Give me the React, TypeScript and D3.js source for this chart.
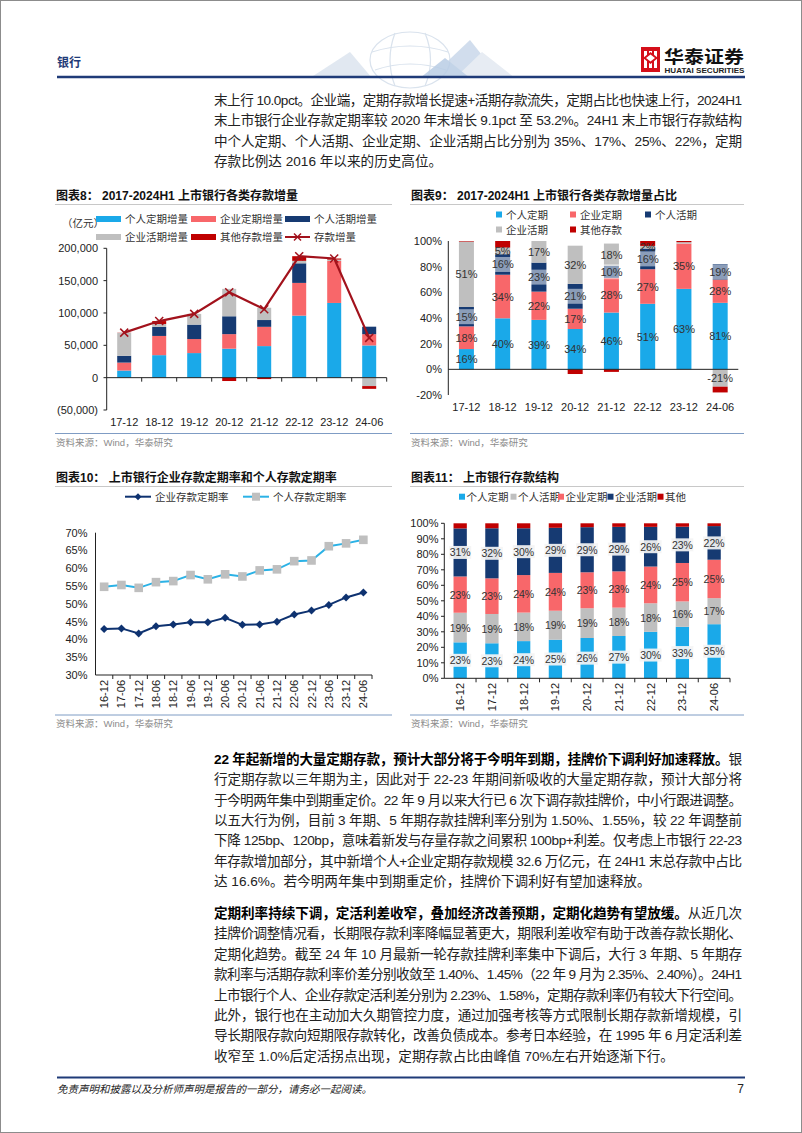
import React from 'react';
import * as d3 from 'd3';

const FONT = "'Liberation Sans', Arial, 'Noto Sans CJK SC', sans-serif";

// ---------- Chart 8 / 9 data (亿元) ----------
const periods8 = ['17-12', '18-12', '19-12', '20-12', '21-12', '22-12', '23-12', '24-06'];
const personalTimeInc = [11000, 34800, 38000, 44800, 48800, 95900, 115500, 49800];
const corpTimeInc = [12300, 29700, 21700, 22500, 29800, 50600, 65000, 17400];
const personalDemandInc = [10500, 14000, 22300, 27600, 10500, 30300, 0, 11600];
const corpDemandInc = [35500, 4500, 16600, 42400, 19000, 3800, 2000, -13000];
const otherInc = [300, 4500, 0, -5200, -2200, 7200, 1700, -4300];
const totalInc = [69600, 87500, 98600, 132100, 105900, 187800, 184200, 61500];
const yTicks8 = [-50000, 0, 50000, 100000, 150000, 200000];
const yTicks9 = [-20, 0, 20, 40, 60, 80, 100];

// ---------- Chart 10 data (%) ----------
const periods10 = ['16-12', '17-06', '17-12', '18-06', '18-12', '19-06', '19-12', '20-06', '20-12', '21-06', '21-12', '22-06', '22-12', '23-06', '23-12', '24-06'];
const corpTimeRate = [42.9, 43.1, 41.7, 43.7, 44.2, 44.8, 44.8, 46.1, 44.1, 44.2, 45.0, 47.0, 48.1, 49.7, 51.8, 53.2];
const personalTimeRate = [54.8, 55.3, 54.5, 56.1, 56.4, 58.1, 56.9, 58.3, 57.7, 59.4, 59.7, 62.0, 62.2, 66.2, 67.0, 68.0];
const yTicks10 = [30, 35, 40, 45, 50, 55, 60, 65, 70];

// ---------- Chart 11 data (%) ----------
const periods11 = ['16-12', '17-12', '18-12', '19-12', '20-12', '21-12', '22-12', '23-12', '24-06'];
const shPersonalTime = [23.2, 22.6, 24.0, 24.9, 26.0, 27.3, 30.0, 33.2, 34.9];
const shPersonalDemand = [19.1, 18.9, 18.4, 18.7, 19.2, 18.3, 18.4, 16.4, 16.8];
const shCorpTime = [23.4, 23.0, 24.2, 24.4, 23.2, 23.4, 23.7, 24.8, 24.8];
const shCorpDemand = [31.0, 32.3, 30.2, 29.1, 29.1, 28.7, 25.6, 23.4, 21.7];
const shOther = [3.3, 3.2, 3.2, 2.9, 2.5, 2.3, 2.3, 2.2, 1.8];
const yTicks11 = [0, 10, 20, 30, 40, 50, 60, 70, 80, 90, 100];

const C_LB = '#1AA9E9';
const C_SAL = '#F8676A';
const C_NAVY = '#163A72';
const C_GRAY = '#BFBFBF';
const C_DRED = '#C00000';
const C_LINE = '#A2121C';
const C_HEAD = '#1F3B78';

type Seg = { t: string; b?: boolean };

const para1: Seg[][] = [
  [{ t: '末上行 10.0pct。企业端，定期存款增长提速+活期存款流失，定期占比也快速上行，2024H1' }],
  [{ t: '末上市银行企业存款定期率较 2020 年末增长 9.1pct 至 53.2%。24H1 末上市银行存款结构' }],
  [{ t: '中个人定期、个人活期、企业定期、企业活期占比分别为 35%、17%、25%、22%，定期' }],
  [{ t: '存款比例达 2016 年以来的历史高位。' }],
];
const para2: Seg[][] = [
  [{ t: '22 年起新增的大量定期存款，预计大部分将于今明年到期，挂牌价下调利好加速释放。', b: true }, { t: '银' }],
  [{ t: '行定期存款以三年期为主，因此对于 22-23 年期间新吸收的大量定期存款，预计大部分将' }],
  [{ t: '于今明两年集中到期重定价。22 年 9 月以来大行已 6 次下调存款挂牌价，中小行跟进调整。' }],
  [{ t: '以五大行为例，目前 3 年期、5 年期存款挂牌利率分别为 1.50%、1.55%，较 22 年调整前' }],
  [{ t: '下降 125bp、120bp，意味着新发与存量存款之间累积 100bp+利差。仅考虑上市银行 22-23' }],
  [{ t: '年存款增加部分，其中新增个人+企业定期存款规模 32.6 万亿元，在 24H1 末总存款中占比' }],
  [{ t: '达 16.6%。若今明两年集中到期重定价，挂牌价下调利好有望加速释放。' }],
];
const para3: Seg[][] = [
  [{ t: '定期利率持续下调，定活利差收窄，叠加经济改善预期，定期化趋势有望放缓。', b: true }, { t: '从近几次' }],
  [{ t: '挂牌价调整情况看，长期限存款利率降幅显著更大，期限利差收窄有助于改善存款长期化、' }],
  [{ t: '定期化趋势。截至 24 年 10 月最新一轮存款挂牌利率集中下调后，大行 3 年期、5 年期存' }],
  [{ t: '款利率与活期存款利率价差分别收敛至 1.40%、1.45%（22 年 9 月为 2.35%、2.40%）。24H1' }],
  [{ t: '上市银行个人、企业存款定活利差分别为 2.23%、1.58%，定期存款利率仍有较大下行空间。' }],
  [{ t: '此外，银行也在主动加大久期管控力度，通过加强考核等方式限制长期存款新增规模，引' }],
  [{ t: '导长期限存款向短期限存款转化，改善负债成本。参考日本经验，在 1995 年 6 月定活利差' }],
  [{ t: '收窄至 1.0%后定活拐点出现，定期存款占比由峰值 70%左右开始逐渐下行。' }],
];

function Para({ lines, y0, lh }: { lines: Seg[][]; y0: number; lh: number }) {
  return (
    <g fontSize={13.6} fill="#222" fontFamily={FONT}>
      {lines.map((segs, i) => {
        const last = i === lines.length - 1;
        return (
          <text key={i} x={214} y={y0 + i * lh} textLength={last ? undefined : 528} lengthAdjust={last ? undefined : 'spacing'}>
            {segs.map((s, j) => (
              <tspan key={j} fontWeight={s.b ? 'bold' : 'normal'} fill={s.b ? '#000' : '#222'}>{s.t}</tspan>
            ))}
          </text>
        );
      })}
    </g>
  );
}

function ChartFrame({ x1, x2, title, titleY, srcY }: { x1: number; x2: number; title: string; titleY: number; srcY: number }) {
  return (
    <g fontFamily={FONT}>
      <text x={x1 + 1} y={titleY} fontSize={12} fontWeight="bold" fill="#111">{title}</text>
      <line x1={x1} x2={x2} y1={titleY + 5} y2={titleY + 5} stroke="#C8C8C8" strokeWidth={1} />
      <line x1={x1} x2={x2} y1={srcY} y2={srcY} stroke="#7F9CC4" strokeWidth={1} />
      <text x={x1 + 1} y={srcY + 12} fontSize={9.5} fill="#8C8C8C">资料来源：Wind，华泰研究</text>
    </g>
  );
}

type Rect = { x: number; y: number; w: number; h: number; c: string };

function stackRects(periods: string[], vals: number[][], colors: string[], xs: d3.ScaleBand<string>, ys: d3.ScaleLinear<number, number>, bw: number) {
  const out: (Rect & { v: number; si: number; mid: number; cx: number })[] = [];
  periods.forEach((p, i) => {
    let pos = 0;
    let neg = 0;
    vals.forEach((arr, si) => {
      const v = arr[i];
      let a: number, b: number;
      if (v >= 0) { a = pos; b = pos + v; pos = b; } else { a = neg; b = neg + v; neg = b; }
      const cx = (xs(p) as number) + xs.bandwidth() / 2;
      const yt = ys(Math.max(a, b));
      const yb = ys(Math.min(a, b));
      out.push({ x: cx - bw / 2, y: yt, w: bw, h: yb - yt, c: colors[si], v, si, mid: (yt + yb) / 2, cx });
    });
  });
  return out;
}

function Chart8() {
  const xs = d3.scaleBand<string>().domain(periods8).range([106.7, 386.7]);
  const ys = d3.scaleLinear().domain([-50000, 200000]).range([410, 248.3]);
  const colors = [C_LB, C_SAL, C_NAVY, C_GRAY, C_DRED];
  const rects = stackRects(periods8, [personalTimeInc, corpTimeInc, personalDemandInc, corpDemandInc, otherInc], colors, xs, ys, 14);
  const fmt = d3.format(',');
  const tf = (v: number) => (v < 0 ? `(${fmt(-v)})` : fmt(v));
  const pts: [number, number][] = periods8.map((p, i) => [(xs(p) as number) + xs.bandwidth() / 2, ys(totalInc[i])]);
  const line = d3.line()(pts) as string;
  const legend = [
    { n: '个人定期增量', c: C_LB, x: 96, y: 219, t: 'r' },
    { n: '企业定期增量', c: C_SAL, x: 191, y: 219, t: 'r' },
    { n: '个人活期增量', c: C_NAVY, x: 285, y: 219, t: 'r' },
    { n: '企业活期增量', c: C_GRAY, x: 96, y: 237, t: 'r' },
    { n: '其他存款增量', c: C_DRED, x: 191, y: 237, t: 'r' },
    { n: '存款增量', c: C_LINE, x: 285, y: 237, t: 'l' },
  ];
  return (
    <g fontFamily={FONT}>
      <ChartFrame x1={55} x2={392} title="图表8：  2017-2024H1 上市银行各类存款增量" titleY={199.5} srcY={433.5} />
      <text x={62} y={227} fontSize={10.5} fill="#333">（亿元）</text>
      {legend.map((l, i) => (
        <g key={i}>
          {l.t === 'r' ? (
            <rect x={l.x} y={l.y - 3} width={25} height={6} fill={l.c} />
          ) : (
            <g stroke={l.c} strokeWidth={2}>
              <line x1={l.x} x2={l.x + 25} y1={l.y} y2={l.y} />
              <line x1={l.x + 9} x2={l.x + 16} y1={l.y - 3.5} y2={l.y + 3.5} strokeWidth={1.4} />
              <line x1={l.x + 9} x2={l.x + 16} y1={l.y + 3.5} y2={l.y - 3.5} strokeWidth={1.4} />
            </g>
          )}
          <text x={l.x + 29} y={l.y + 4} fontSize={10.5} fill="#333">{l.n}</text>
        </g>
      ))}
      {yTicks8.map((t) => (
        <g key={t}>
          <text x={98} y={ys(t) + 4} fontSize={11} textAnchor="end" fill="#222">{tf(t)}</text>
          <line x1={103.5} x2={106.7} y1={ys(t)} y2={ys(t)} stroke="#222" />
        </g>
      ))}
      {rects.map((r, i) => (
        <rect key={i} x={r.x} y={r.y} width={r.w} height={Math.max(0, r.h)} fill={r.c} />
      ))}
      <line x1={106.7} x2={106.7} y1={248.3} y2={410} stroke="#222" />
      <line x1={106.7} x2={386.7} y1={ys(0)} y2={ys(0)} stroke="#222" />
      {periods8.map((p, i) => (
        <line key={'t' + i} x1={(xs(p) as number) + xs.bandwidth()} x2={(xs(p) as number) + xs.bandwidth()} y1={ys(0)} y2={ys(0) + 4} stroke="#222" />
      ))}
      <path d={line} fill="none" stroke={C_LINE} strokeWidth={2.2} />
      {pts.map((p, i) => (
        <g key={'m' + i} stroke={C_LINE} strokeWidth={1.5}>
          <line x1={p[0] - 4} x2={p[0] + 4} y1={p[1] - 4} y2={p[1] + 4} />
          <line x1={p[0] - 4} x2={p[0] + 4} y1={p[1] + 4} y2={p[1] - 4} />
        </g>
      ))}
      {periods8.map((p) => (
        <text key={p} x={(xs(p) as number) + xs.bandwidth() / 2} y={425.5} fontSize={11} textAnchor="middle" fill="#222">{p}</text>
      ))}
    </g>
  );
}

function Chart9() {
  const xs = d3.scaleBand<string>().domain(periods8).range([448.3, 738.3]);
  const ys = d3.scaleLinear().domain([-20, 100]).range([395, 241]);
  const colors = [C_LB, C_SAL, C_NAVY, C_GRAY, C_DRED];
  const raw = [personalTimeInc, corpTimeInc, personalDemandInc, corpDemandInc, otherInc];
  // share of net total (labels); bars follow Excel's 100% stacking (share / sum of |shares|)
  const shares = raw.map((arr) => arr.map((v, i) => (v / totalInc[i]) * 100));
  const absSum = periods8.map((_, i) => shares.reduce((s, a) => s + Math.abs(a[i]), 0));
  const norm = shares.map((arr) => arr.map((v, i) => (v / absSum[i]) * 100));
  const rects = stackRects(periods8, norm, colors, xs, ys, 15);
  const legend = [
    { n: '个人定期', c: C_LB, x: 496, y: 214.5 },
    { n: '企业定期', c: C_SAL, x: 570, y: 214.5 },
    { n: '个人活期', c: C_NAVY, x: 645, y: 214.5 },
    { n: '企业活期', c: C_GRAY, x: 496, y: 229.5 },
    { n: '其他存款', c: C_DRED, x: 570, y: 229.5 },
  ];
  return (
    <g fontFamily={FONT}>
      <ChartFrame x1={410} x2={744} title="图表9：  2017-2024H1 上市银行各类存款增量占比" titleY={199.5} srcY={433.5} />
      {legend.map((l, i) => (
        <g key={i}>
          <rect x={l.x} y={l.y - 3} width={6} height={6} fill={l.c} />
          <text x={l.x + 10} y={l.y + 4} fontSize={10.5} fill="#333">{l.n}</text>
        </g>
      ))}
      {yTicks9.map((t) => (
        <text key={t} x={442} y={ys(t) + 4} fontSize={11} textAnchor="end" fill="#222">{t}%</text>
      ))}
      {rects.map((r, i) => (
        <rect key={i} x={r.x} y={r.y} width={r.w} height={Math.max(0, r.h)} fill={r.c} />
      ))}
      {rects.map((r, i) => {
        const sh = shares[r.si][Math.floor(i / 5)];
        if (r.si === 4 || Math.abs(sh) < 1.5) return null;
        const lab = `${Math.round(sh)}%`;
        return (
          <g key={'l' + i}>
            {r.si === 2 && <rect x={r.cx - 10} y={r.mid - 7.5} width={20} height={15} fill="#fff" fillOpacity={0.5} />}
            <text x={r.cx} y={r.mid + 4} fontSize={11} textAnchor="middle" fill="#333">{lab}</text>
          </g>
        );
      })}
      <line x1={448.3} x2={448.3} y1={241} y2={395} stroke="#222" />
      <line x1={448.3} x2={738.3} y1={ys(0)} y2={ys(0)} stroke="#222" />
      {periods8.map((p) => (
        <text key={p} x={(xs(p) as number) + xs.bandwidth() / 2} y={410.5} fontSize={11} textAnchor="middle" fill="#222">{p}</text>
      ))}
    </g>
  );
}

function Chart10() {
  const xs = d3.scaleBand<string>().domain(periods10).range([95.5, 372]);
  const ys = d3.scaleLinear().domain([30, 70]).range([675, 532.7]);
  const cx = (p: string) => (xs(p) as number) + xs.bandwidth() / 2;
  const corpPts: [number, number][] = periods10.map((p, i) => [cx(p), ys(corpTimeRate[i])]);
  const persPts: [number, number][] = periods10.map((p, i) => [cx(p), ys(personalTimeRate[i])]);
  const lg = d3.line();
  const NAVY = '#0E3270';
  const LBL = '#2BB2E6';
  const diamond = (x: number, y: number, s: number) => `M${x},${y - s}L${x + s},${y}L${x},${y + s}L${x - s},${y}Z`;
  return (
    <g fontFamily={FONT}>
      <ChartFrame x1={55} x2={392} title="图表10：  上市银行企业存款定期率和个人存款定期率" titleY={481.5} srcY={715} />
      <line x1={125} x2={151} y1={496.7} y2={496.7} stroke={NAVY} strokeWidth={2} />
      <path d={diamond(138, 496.7, 3.5)} fill={NAVY} />
      <text x={155} y={500.7} fontSize={10.5} fill="#333">企业存款定期率</text>
      <line x1={243} x2={269} y1={496.7} y2={496.7} stroke={LBL} strokeWidth={2} />
      <rect x={252} y={492.7} width={8} height={8} fill={C_GRAY} />
      <text x={273} y={500.7} fontSize={10.5} fill="#333">个人存款定期率</text>
      {yTicks10.map((t) => (
        <text key={t} x={87.5} y={ys(t) + 4} fontSize={11} textAnchor="end" fill="#222">{t}%</text>
      ))}
      <line x1={95.5} x2={95.5} y1={532.7} y2={675} stroke="#222" />
      <line x1={95.5} x2={372} y1={675} y2={675} stroke="#222" />
      {periods10.map((p) => (
        <line key={'t' + p} x1={(xs(p) as number) + xs.bandwidth()} x2={(xs(p) as number) + xs.bandwidth()} y1={675} y2={679} stroke="#222" />
      ))}
      <path d={lg(persPts) as string} fill="none" stroke={LBL} strokeWidth={2} />
      {persPts.map((p, i) => (
        <rect key={'s' + i} x={p[0] - 4.3} y={p[1] - 4.3} width={8.6} height={8.6} fill={C_GRAY} />
      ))}
      <path d={lg(corpPts) as string} fill="none" stroke={NAVY} strokeWidth={2} />
      {corpPts.map((p, i) => (
        <path key={'d' + i} d={diamond(p[0], p[1], 4)} fill={NAVY} />
      ))}
      {periods10.map((p) => (
        <text key={p} transform={`translate(${cx(p) + 4},${680}) rotate(-90)`} fontSize={11} textAnchor="end" fill="#222">{p}</text>
      ))}
    </g>
  );
}

function Chart11() {
  const xs = d3.scaleBand<string>().domain(periods11).range([444.3, 730]);
  const ys = d3.scaleLinear().domain([0, 100]).range([678.3, 523.3]);
  const colors = [C_LB, C_GRAY, C_SAL, C_NAVY, C_DRED];
  const vals = [shPersonalTime, shPersonalDemand, shCorpTime, shCorpDemand, shOther];
  const rects = stackRects(periods11, vals, colors, xs, ys, 13.3);
  const legend = [
    { n: '个人定期', c: C_LB, x: 459 },
    { n: '个人活期', c: C_GRAY, x: 510.5 },
    { n: '企业定期', c: C_SAL, x: 558 },
    { n: '企业活期', c: C_NAVY, x: 607.5 },
    { n: '其他', c: C_DRED, x: 657.5 },
  ];
  return (
    <g fontFamily={FONT}>
      <ChartFrame x1={410} x2={744} title="图表11：  上市银行存款结构" titleY={481.5} srcY={715} />
      {legend.map((l, i) => (
        <g key={i}>
          <rect x={l.x} y={493.7} width={6} height={6} fill={l.c} />
          <text x={l.x + 7.5} y={500.7} fontSize={10.5} fill="#333">{l.n}</text>
        </g>
      ))}
      {yTicks11.map((t) => (
        <g key={t}>
          <text x={438.5} y={ys(t) + 4} fontSize={11} textAnchor="end" fill="#222">{t}%</text>
          <line x1={441} x2={444.3} y1={ys(t)} y2={ys(t)} stroke="#222" />
        </g>
      ))}
      {rects.map((r, i) => (
        <rect key={i} x={r.x} y={r.y} width={r.w} height={Math.max(0, r.h)} fill={r.c} />
      ))}
      {rects.map((r, i) => {
        if (r.si === 4) return null;
        const lab = `${Math.round(r.v)}%`;
        const box = r.si === 0 || r.si === 3;
        return (
          <g key={'l' + i}>
            {box && <rect x={r.cx - 11} y={r.mid - 6.5} width={22} height={13} fill="#F4F4F4" fillOpacity={0.92} />}
            <text x={r.cx} y={r.mid + 4} fontSize={10.5} textAnchor="middle" fill="#333">{lab}</text>
          </g>
        );
      })}
      <line x1={444.3} x2={444.3} y1={523.3} y2={678.3} stroke="#222" />
      <line x1={444.3} x2={730} y1={678.3} y2={678.3} stroke="#222" />
      {periods11.map((p) => (
        <line key={'t' + p} x1={(xs(p) as number) + xs.bandwidth()} x2={(xs(p) as number) + xs.bandwidth()} y1={678.3} y2={682.3} stroke="#222" />
      ))}
      {periods11.map((p) => (
        <text key={p} transform={`translate(${(xs(p) as number) + xs.bandwidth() / 2 + 4},${683}) rotate(-90)`} fontSize={11} textAnchor="end" fill="#222">{p}</text>
      ))}
    </g>
  );
}

function Header() {
  return (
    <g fontFamily={FONT}>
      {/* faint decorative watermark */}
      <g fill="none" stroke="#D6E0EC" strokeWidth={1.2} opacity={0.9}>
        <ellipse cx={410} cy={60} rx={40} ry={28} />
        <path d="M372,52 Q410,40 448,52" />
        <path d="M375,70 Q410,58 446,70" />
        <path d="M395,33 Q385,60 395,86" />
        <path d="M425,33 Q436,60 425,86" />
      </g>
      <g fill="#DCE5EF" opacity={0.85}>
        <polygon points="310,78 350,52 372,78" />
        <polygon points="430,78 470,40 500,78" fill="#C9D8EA" />
        <polygon points="455,78 482,52 515,78" fill="#E3E9F1" />
        <polygon points="420,78 445,58 470,78" fill="#B9CDE5" />
      </g>
      <text x={57} y={67} fontSize={12} fontWeight="bold" fill={C_HEAD}>银行</text>
      <rect x={641} y={47} width={19} height={25} fill="#D50F1A" />
      <g fill="#fff">
        <rect x={644} y={51} width={3} height={17} />
        <rect x={649} y={51} width={3} height={17} />
        <rect x={654} y={51} width={3} height={17} />
        <path d="M643,58 L650.5,52 L658,58 L650.5,64 Z" fill="#D50F1A" />
        <path d="M646,58 L650.5,54.5 L655,58 L650.5,61.5 Z" />
      </g>
      <text x={664} y={62.5} fontSize={17.5} fontWeight="bold" fill="#111" fontFamily="'Noto Sans CJK SC', sans-serif" textLength={80} lengthAdjust="spacingAndGlyphs">华泰证券</text>
      <text x={664.5} y={73} fontSize={6.4} fontWeight="bold" fill="#222" textLength={80} lengthAdjust="spacingAndGlyphs">HUATAI SECURITIES</text>
      <line x1={57} x2={745} y1={77} y2={77} stroke={C_HEAD} strokeWidth={2.5} />
    </g>
  );
}

function Footer() {
  return (
    <g fontFamily={FONT}>
      <line x1={57} x2={745} y1={1077.5} y2={1077.5} stroke={C_HEAD} strokeWidth={2} />
      <text x={57} y={1093} fontSize={10.5} fontStyle="italic" fill="#222">免责声明和披露以及分析师声明是报告的一部分，请务必一起阅读。</text>
      <text x={744} y={1093} fontSize={12} textAnchor="end" fill="#222">7</text>
    </g>
  );
}

export default function App() {
  return (
    <div style={{ position: 'absolute', left: 0, top: 0, width: 802, height: 1133, background: '#fff' }}>
      <svg width={802} height={1133} viewBox="0 0 802 1133" style={{ display: 'block' }}>
        <rect x={0} y={0} width={802} height={1133} fill="#fff" />
        <rect x={0.5} y={0.5} width={801} height={1132} fill="none" stroke="#8C8C8C" strokeWidth={1} />
        <Header />
        <Para lines={para1} y0={105} lh={20.4} />
        <Chart8 />
        <Chart9 />
        <Chart10 />
        <Chart11 />
        <Para lines={para2} y0={764} lh={20.3} />
        <Para lines={para3} y0={918} lh={20.4} />
        <Footer />
      </svg>
    </div>
  );
}
